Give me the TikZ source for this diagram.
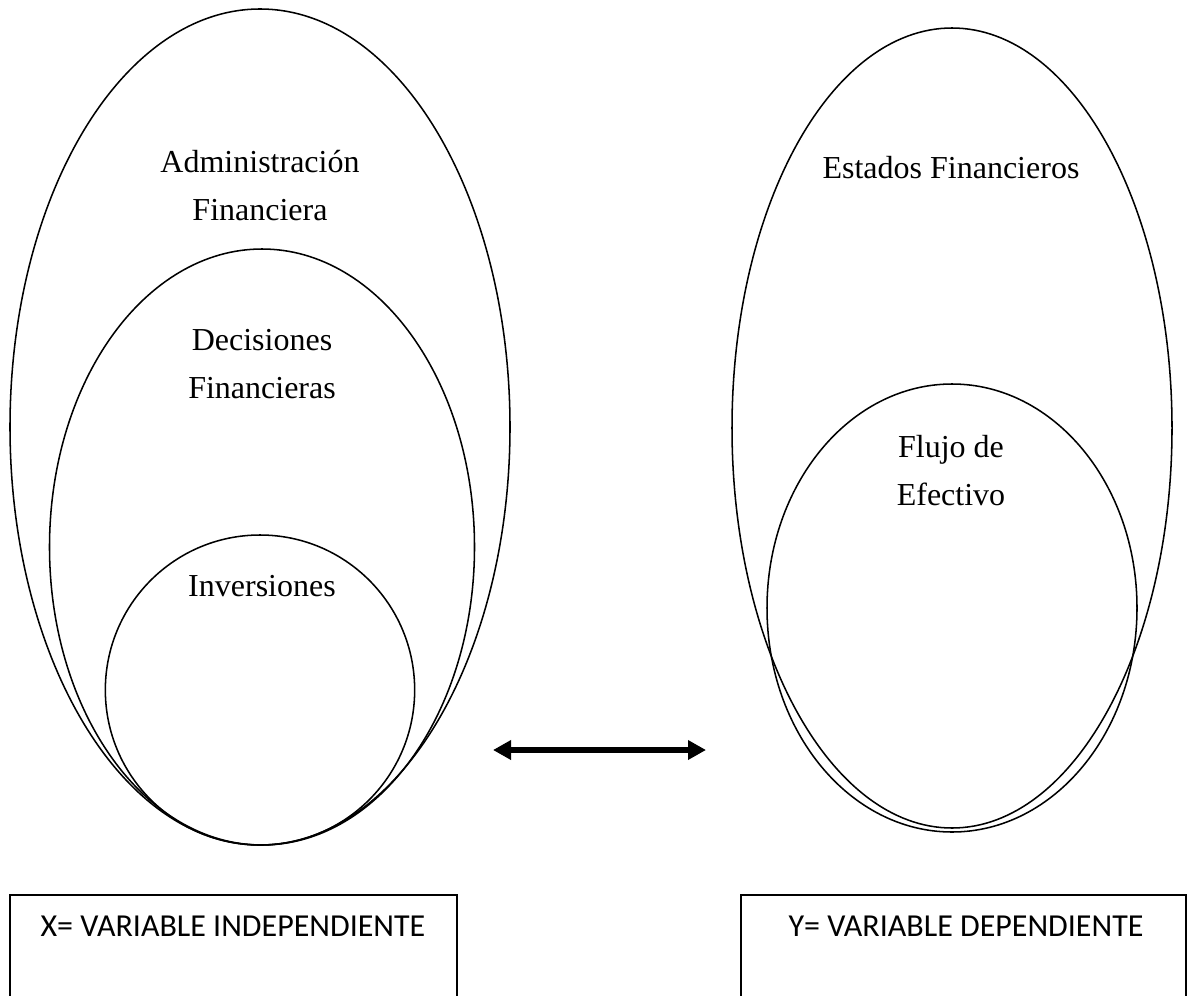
\documentclass[tikz,border=0pt]{standalone}
\usepackage{fontspec}
\setmainfont{Liberation Serif}
\newfontfamily\calibri{Carlito}
\usetikzlibrary{
  arrows.meta,
  positioning,
  shapes.geometric
}

\begin{document}
\begin{tikzpicture}[x=0.75pt, y=-0.75pt,
  conj/.style={draw, ellipse, line width=1.15pt, inner sep=0pt},
  etiqueta/.style={font=\fontsize{24}{36}\selectfont, align=center},
  varbox/.style={draw, line width=1.15pt, minimum height=120pt, anchor=north},
  vartext/.style={font=\calibri\fontsize{24}{29}\selectfont}]
  \useasboundingbox (0,0) rectangle (1187,995);
  \clip (0,0) rectangle (1187,995);
  % variable independiente
  \node[conj, minimum width=375pt, minimum height=627pt] (adm) at (260,427) {};
  \node[conj, minimum width=318.75pt, minimum height=447pt] (dec) at (262,547) {};
  \node[conj, minimum width=232pt, minimum height=232.5pt] (inv) at (260,690) {};
  \node[etiqueta] (admtxt) at (260,186) {Administración\\Financiera};
  \node[etiqueta] (dectxt) at (262,364) {Decisiones\\Financieras};
  \node[etiqueta] (invtxt) at (262,586) {Inversiones};
  % variable dependiente
  \node[conj, minimum width=330pt, minimum height=600pt] (est) at (952,428) {};
  \node[conj, minimum width=277.5pt, minimum height=336pt] (flu) at (952,608) {};
  \node[etiqueta] (esttxt) at (951,168) {Estados Financieros};
  \node[etiqueta] (flutxt) at (951,471) {Flujo de\\Efectivo};
  % relacion
  \coordinate (izq) at (493,750);
  \coordinate (der) at (706,750);
  \draw[line width=4pt, {Triangle[length=13.5pt,width=14pt]}-{Triangle[length=13.5pt,width=14pt]}] (izq) -- (der);
  % cuadros
  \node[varbox, minimum width=335.25pt] (xbox) at (233.5,894) {};
  \node[varbox, minimum width=333.75pt] (ybox) at (963.5,894) {};
  \node[vartext] (xtxt) at (233,926) {X= VARIABLE INDEPENDIENTE};
  \node[vartext] (ytxt) at (966,926) {Y= VARIABLE DEPENDIENTE};
\end{tikzpicture}
\end{document}
